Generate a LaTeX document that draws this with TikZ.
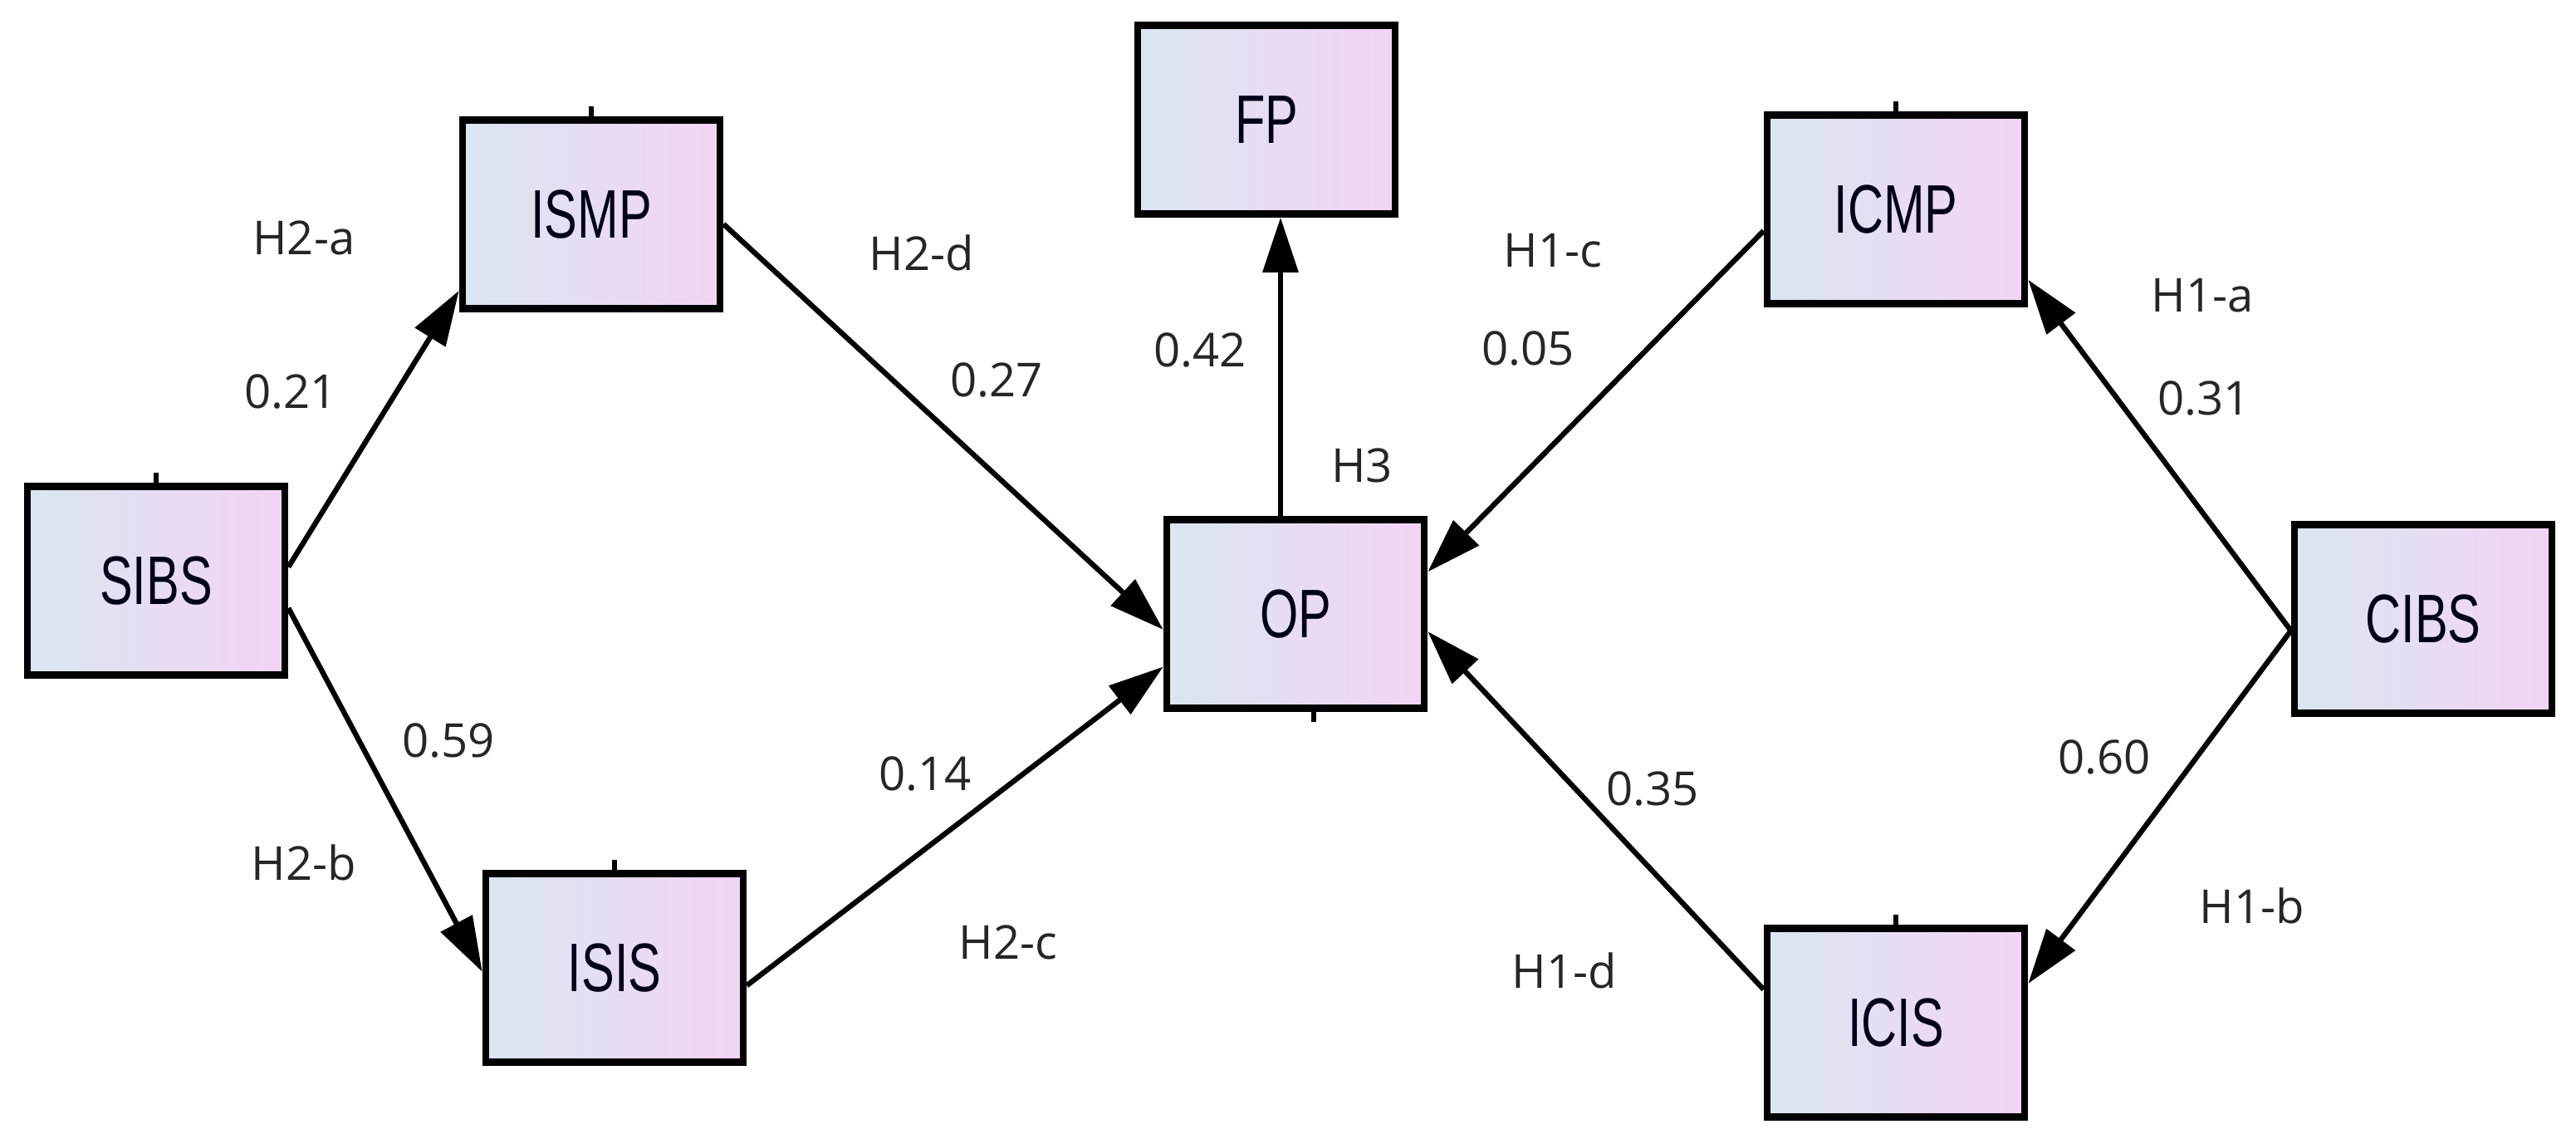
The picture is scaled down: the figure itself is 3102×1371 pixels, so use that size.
\documentclass[tikz,border=0pt]{standalone}
\usepackage{fontspec}
\setmainfont{Open Sans}
\newfontfamily\boxfont{Liberation Sans}[FakeStretch=0.72]
\usetikzlibrary{arrows.meta,calc}
\definecolor{boxL}{RGB}{218,230,240}
\definecolor{boxR}{RGB}{243,212,245}
\tikzset{
  var/.style={draw=black, line width=2.4pt, left color=boxL, right color=boxR,
    minimum width=3.1cm, minimum height=2.27cm, inner sep=0pt,
    font=\boxfont\fontsize{23.5pt}{25pt}\selectfont, text=black!90!blue},
  path/.style={line width=1.8pt, -{Triangle[length=0.66cm,width=0.42cm]}},
  lab/.style={font=\fontsize{16pt}{18pt}\selectfont, text=black!85},
  tick/.style={line width=1.6pt}
}
\begin{document}
\begin{tikzpicture}[x=0.01cm,y=-0.01cm]
\useasboundingbox (0,0) rectangle (3102,1371);
% boxes
\node[var] (SIBS) at (188,699) {SIBS};
\node[var] (ISMP) at (712,258) {ISMP};
\node[var] (ISIS) at (740,1165) {ISIS};
\node[var] (FP) at (1525,144) {FP};
\node[var] (OP) at (1560,739) {OP};
\node[var] (ICMP) at (2283,252) {ICMP};
\node[var] (ICIS) at (2283,1231) {ICIS};
\node[var] (CIBS) at (2918,745) {CIBS};
% small ticks
\draw[tick] (SIBS.north) -- ++(0,-12);
\draw[tick] (ISMP.north) -- ++(0,-12);
\draw[tick] (ISIS.north) -- ++(0,-12);
\draw[tick] (ICMP.north) -- ++(0,-12);
\draw[tick] (ICIS.north) -- ++(0,-12);
\draw[tick] ($(OP.south)+(22,0)$) -- ++(0,12);
% connectors
\draw[path] ($(SIBS.north east)!0.43!(SIBS.south east)$) -- ($(ISMP.north west)!0.89!(ISMP.south west)$);
\draw[path] ($(SIBS.north east)!0.64!(SIBS.south east)$) -- ($(ISIS.north west)!0.52!(ISIS.south west)$);
\draw[path] ($(ISMP.north east)!0.55!(ISMP.south east)$) -- ($(OP.north west)!0.58!(OP.south west)$);
\draw[path] ($(ISIS.north east)!0.59!(ISIS.south east)$) -- ($(OP.north west)!0.77!(OP.south west)$);
\draw[path] ($(OP.north)+(-18,0)$) -- ($(FP.south)+(17,0)$);
\draw[path] ($(ICMP.north west)!0.61!(ICMP.south west)$) -- ($(OP.north east)!0.285!(OP.south east)$);
\draw[path] ($(ICIS.north west)!0.33!(ICIS.south west)$) -- ($(OP.north east)!0.59!(OP.south east)$);
\draw[path] ($(CIBS.north west)!0.56!(CIBS.south west)$) -- ($(ICMP.north east)!0.86!(ICMP.south east)$);
\draw[path] ($(CIBS.north west)!0.56!(CIBS.south west)$) -- ($(ICIS.north east)!0.30!(ICIS.south east)$);
% labels
\node[lab] (l1) at (366,286) {H2-a};
\node[lab] (l2) at (350,472) {0.21};
\node[lab] (l3) at (540,892) {0.59};
\node[lab] (l4) at (366,1038) {H2-b};
\node[lab] (l5) at (1110,304) {H2-d};
\node[lab] (l6) at (1200,458) {0.27};
\node[lab] (l7) at (1445,422) {0.42};
\node[lab] (l8) at (1640,560) {H3};
\node[lab] (l9) at (1114,932) {0.14};
\node[lab] (l10) at (1214,1134) {H2-c};
\node[lab] (l11) at (1870,302) {H1-c};
\node[lab] (l12) at (1840,420) {0.05};
\node[lab] (l13) at (1990,950) {0.35};
\node[lab] (l14) at (1884,1168) {H1-d};
\node[lab] (l15) at (2652,356) {H1-a};
\node[lab] (l16) at (2654,480) {0.31};
\node[lab] (l17) at (2534,912) {0.60};
\node[lab] (l18) at (2712,1090) {H1-b};
\end{tikzpicture}
\end{document}
